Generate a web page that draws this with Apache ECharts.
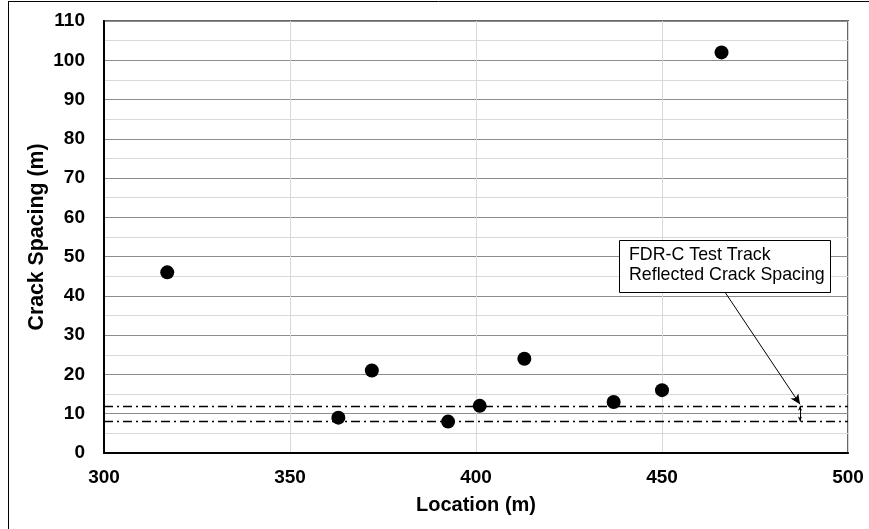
<!DOCTYPE html>
<html>
<head>
<meta charset="utf-8">
<script src="https://cdn.jsdelivr.net/npm/echarts@6/dist/echarts.min.js"></script>
<style>html,body{margin:0;padding:0;background:#fff}#c{width:869px;height:529px}</style>
</head>
<body>
<div id="c"></div>
<script>
var locations = [317, 363, 372, 392.5, 401, 413, 437, 450, 466];
var spacings  = [46, 9, 21, 8, 12, 24, 13, 16, 102];
var refLines  = [12, 8];
var xTicks = [300, 350, 400, 450, 500];
var yTicks = [0, 10, 20, 30, 40, 50, 60, 70, 80, 90, 100, 110];
var annotationText = ['FDR-C Test Track', 'Reflected Crack Spacing'];

var FONT = '"Liberation Sans", Arial, sans-serif';
var chart = echarts.init(document.getElementById('c'), null, {renderer: 'canvas'});
var dashDot = {type: [9, 4, 2, 4], color: '#000', width: 1.3};

var option = {
  animation: false,
  backgroundColor: '#fff',
  grid: {left: 104, right: 21, top: 21, bottom: 76, show: true, borderColor: '#666', borderWidth: 2, backgroundColor: 'transparent'},
  xAxis: {
    type: 'value', min: xTicks[0], max: xTicks[xTicks.length - 1], interval: 50,
    name: 'Location (m)', nameLocation: 'middle', nameGap: 42, nameMoveOverlap: false,
    nameTextStyle: {fontFamily: FONT, fontWeight: 'bold', fontSize: 20, color: '#000'},
    axisLine: {show: true, lineStyle: {color: '#000', width: 2}},
    axisTick: {show: false},
    axisLabel: {fontFamily: FONT, fontWeight: 'bold', fontSize: 19, color: '#000', margin: 15},
    splitLine: {show: true, lineStyle: {color: '#d9d9d9', width: 1}}
  },
  yAxis: {
    type: 'value', min: yTicks[0], max: yTicks[yTicks.length - 1], interval: 10,
    name: 'Crack Spacing (m)', nameLocation: 'middle', nameGap: 56, nameMoveOverlap: false,
    nameTextStyle: {fontFamily: FONT, fontWeight: 'bold', fontSize: 21.3, color: '#000'},
    axisLine: {show: true, lineStyle: {color: '#000', width: 2}},
    axisTick: {show: false},
    axisLabel: {fontFamily: FONT, fontWeight: 'bold', fontSize: 19, color: '#000', margin: 19},
    splitLine: {show: true, lineStyle: {color: '#8c8c8c', width: 1}},
    minorTick: {show: false, splitNumber: 2},
    minorSplitLine: {show: true, lineStyle: {color: '#d9d9d9', width: 1}}
  },
  series: [
    {
      type: 'scatter',
      data: locations.map(function (x, i) { return [x, spacings[i]]; }),
      symbol: 'circle', symbolSize: 14,
      itemStyle: {color: '#000', opacity: 1},
      z: 5,
      markLine: {
        silent: true, symbol: 'none',
        label: {show: false},
        lineStyle: dashDot,
        data: refLines.map(function (v) { return {yAxis: v}; })
      }
    },
    {
      type: 'line', data: [], silent: true,
      markLine: {
        silent: true, label: {show: false},
        lineStyle: {color: '#000', width: 1, type: 'solid'},
        data: [
          [{coord: [466.9, 41], symbol: 'none'}, {coord: [487.1, 12.4], symbol: 'arrow', symbolSize: [7, 10]}],
          [{coord: [487.1, refLines[0]], symbol: 'arrow', symbolSize: [3, 5]}, {coord: [487.1, refLines[1]], symbol: 'arrow', symbolSize: [3, 5]}]
        ]
      }
    }
  ]
};
chart.setOption(option);

var tl = chart.convertToPixel({gridIndex: 0}, [438.4, 54.2]);
var br = chart.convertToPixel({gridIndex: 0}, [495.1, 41]);
chart.setOption({
  graphic: [
    {type: 'line', shape: {x1: 8.5, y1: 1, x2: 8.5, y2: 529}, style: {stroke: '#000', lineWidth: 1}, silent: true},
    {type: 'line', shape: {x1: 8, y1: 1.5, x2: 869, y2: 1.5}, style: {stroke: '#000', lineWidth: 1}, silent: true},
    {type: 'rect', shape: {x: Math.round(tl[0]) + 0.5, y: Math.round(tl[1]) + 0.5, width: Math.round(br[0] - tl[0]), height: Math.round(br[1] - tl[1])},
     style: {fill: '#fff', stroke: '#000', lineWidth: 1}, z: 100, silent: true},
    {type: 'text', x: Math.round(tl[0]) + 10, y: Math.round(tl[1]) + 5, z: 101, silent: true,
     style: {text: annotationText.join('\n'), font: '17.8px ' + FONT, fill: '#000', lineHeight: 20}}
  ]
});
</script>
</body>
</html>
